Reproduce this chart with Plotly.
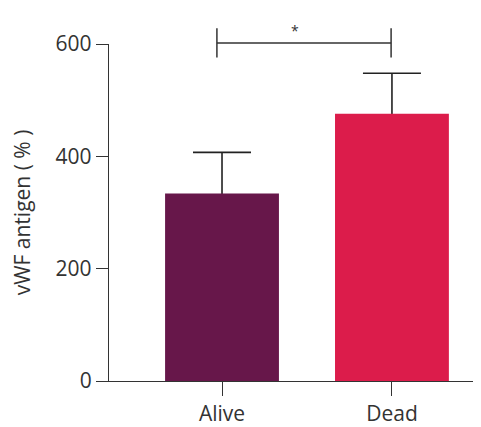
import plotly.graph_objects as go

categories = ["Alive", "Dead"]
means = [334, 476]
errors = [73, 72]
colors = ["#67174A", "#DC1C4B"]
y_ticks = [0, 200, 400, 600]
y_title = "vWF antigen ( % )"
sig_label = "*"
sig_y = 602   # bracket level in data units
sig_tick_top = 628
sig_tick_bot = 576
star_y = 645
YMAX = 600

x_pos = list(range(len(categories)))
BAR_W = 0.67

fig = go.Figure()
# error bars (symmetric, lower half hidden behind the bars drawn on top)
fig.add_trace(go.Bar(
    x=x_pos, y=means, width=BAR_W,
    marker=dict(color="rgba(0,0,0,0)", line=dict(width=0)),
    error_y=dict(type="data", array=errors, color="#222222", thickness=1.6, width=29),
    showlegend=False, hoverinfo="skip",
))
fig.add_trace(go.Bar(
    x=x_pos, y=means, width=BAR_W,
    marker=dict(color=colors, line=dict(width=0)),
    showlegend=False,
))

def py(v):
    return v / YMAX

bx0, bx1 = -0.03, 0.995
line = dict(color="#333333", width=1.5)
fig.add_shape(type="line", xref="x", yref="paper", x0=bx0, x1=bx1, y0=py(sig_y), y1=py(sig_y), line=line)
fig.add_shape(type="line", xref="x", yref="paper", x0=bx0, x1=bx0, y0=py(sig_tick_bot), y1=py(sig_tick_top), line=line)
fig.add_shape(type="line", xref="x", yref="paper", x0=bx1, x1=bx1, y0=py(sig_tick_bot), y1=py(sig_tick_top), line=line)
fig.add_annotation(x=0.43, xref="x", y=py(star_y), yref="paper", text=sig_label,
                   showarrow=False, font=dict(size=14, color="#333333"))

# page body has an 8px margin, so the figure is sized to the window minus that
fig.update_layout(
    width=473, height=419,
    margin=dict(l=101, r=0, t=36, b=44),
    paper_bgcolor="white", plot_bgcolor="white",
    font=dict(family="Open Sans", size=21, color="#333333"),
    barmode="overlay",
)
fig.update_xaxes(
    range=[-0.665, 1.524], tickvals=x_pos, ticktext=categories,
    showline=True, linecolor="#333333", linewidth=1.3,
    ticks="outside", ticklen=14, tickcolor="#333333", tickwidth=1.3,
    showgrid=False, zeroline=False, fixedrange=True,
)
fig.update_yaxes(
    range=[0, YMAX], tickvals=y_ticks,
    showline=True, linecolor="#333333", linewidth=1.3,
    ticks="outside", ticklen=12, tickcolor="#333333", tickwidth=1.3,
    showgrid=False, zeroline=False, fixedrange=True,
    title=dict(text=y_title, standoff=20, font=dict(size=21)),
)

fig.write_html("out.html")
